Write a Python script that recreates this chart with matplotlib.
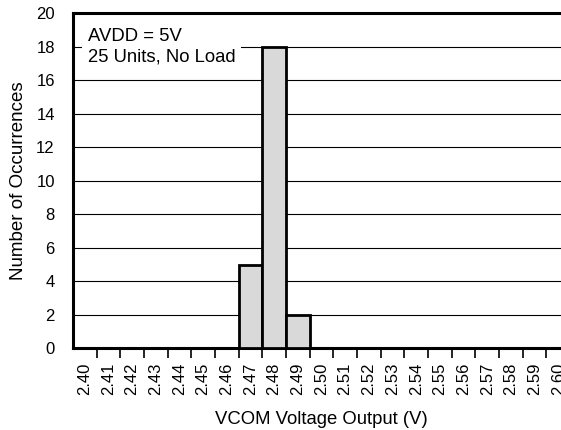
import numpy as np
import matplotlib.pyplot as plt
from matplotlib.ticker import FixedLocator

plt.rcParams['font.family'] = ['Liberation Sans', 'DejaVu Sans']

# bins (V) and counts
bins = ["2.40", "2.41", "2.42", "2.43", "2.44", "2.45", "2.46", "2.47", "2.48", "2.49",
        "2.50", "2.51", "2.52", "2.53", "2.54", "2.55", "2.56", "2.57", "2.58", "2.59", "2.60"]
counts = [0, 0, 0, 0, 0, 0, 0, 5, 18, 2, 0, 0, 0, 0, 0, 0, 0, 0, 0, 0, 0]

fig = plt.figure(figsize=(5.61, 4.30), dpi=100)
ax = fig.add_axes([0.130, 0.190, 0.886, 0.779])

x = np.arange(len(bins))
ax.bar(x, counts, width=1.0, color="#d9d9d9", edgecolor="black", linewidth=2.0, zorder=3)

ax.set_xlim(-0.5, len(bins) - 0.5)
ax.set_ylim(0, 20)
ax.set_yticks(range(0, 21, 2))
ax.yaxis.grid(True, color="black", linewidth=0.8, zorder=0)
ax.set_axisbelow(True)

ax.set_xticks(x)
ax.set_xticklabels(bins, rotation=90)
ax.xaxis.set_minor_locator(FixedLocator(x[:-1] + 0.5))
ax.tick_params(axis="x", which="major", length=0, pad=10, labelsize=12)
ax.tick_params(axis="x", which="minor", length=7, width=1.2, direction="out")
ax.tick_params(axis="y", length=0, pad=13, labelsize=12)

for s in ["left", "bottom", "top"]:
    ax.spines[s].set_linewidth(2.2)
ax.spines["right"].set_visible(False)

ax.set_xlabel("VCOM Voltage Output (V)", fontsize=13.3, labelpad=12)
ax.set_ylabel("Number of Occurrences", fontsize=13.5, labelpad=7)

ax.text(0.13, 18.0, "AVDD = 5V\n25 Units, No Load", fontsize=13.3, va="center", ha="left",
        linespacing=1.3, zorder=4,
        bbox=dict(facecolor="white", edgecolor="none", pad=4))

fig.savefig("out.png", dpi=100)
